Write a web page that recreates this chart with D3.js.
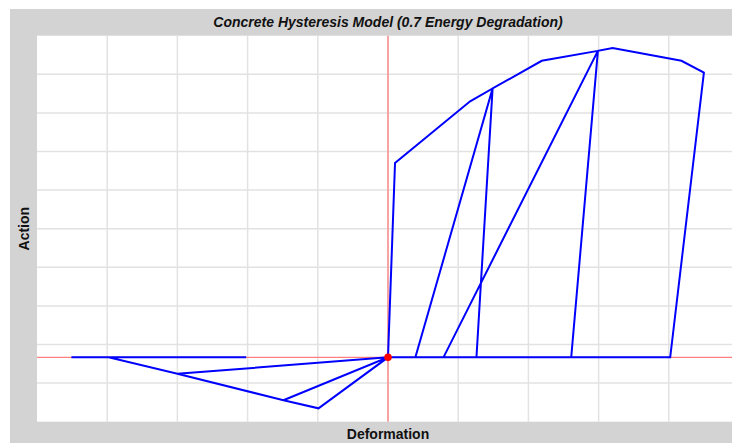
<!DOCTYPE html>
<html>
<head>
<meta charset="utf-8">
<script src="https://cdn.jsdelivr.net/npm/d3@7"></script>
<style>
  html, body { margin: 0; padding: 0; background: #ffffff; overflow: hidden; }
  svg { display: block; }
</style>
</head>
<body>
<svg id="chart" width="732" height="443"></svg>
<script>
// ---- data ----
const titleText = "Concrete Hysteresis Model (0.7 Energy Degradation)";
const xLabel = "Deformation";
const yLabel = "Action";
const xDomain = [-5, 5];
const yDomain = [-50, 250];
const gridDivisions = 10;

// hysteresis path, in drawing order
const deformation = [
  0, 0.10, 1.17, 1.49, 1.26, 0,
  -0.99, -1.49, 0,
  0.39, 1.49, 2.19, 2.99, 2.61, 0,
  -1.49, -3.0, 0,
  0.79, 2.99, 3.20, 4.18, 4.50, 4.02, 0,
  -3.0, -3.98, -4.51, -2.02
];
const action = [
  0, 151, 199, 209, 0, 0,
  -39.6, -33.3, 0,
  0, 209, 230.5, 238.2, 0, 0,
  -33.3, -12.8, 0,
  0, 238.2, 240.4, 230.5, 221.3, 0, 0,
  -12.8, 0, 0, 0
];
const currentPoint = [0, 0];

// ---- layout ----
const svg = d3.select("#chart");
const panel = { x: 10, y: 9, w: 756, h: 440 };
const plot = { x0: 37, x1: 739, y0: 35.7, y1: 421.7 };

const x = d3.scaleLinear().domain(xDomain).range([plot.x0, plot.x1]);
const y = d3.scaleLinear().domain(yDomain).range([plot.y1, plot.y0]);

svg.append("rect").attr("x", panel.x).attr("y", panel.y)
  .attr("width", panel.w).attr("height", panel.h).attr("fill", "#d3d3d3");
svg.append("rect").attr("x", plot.x0).attr("y", plot.y0)
  .attr("width", plot.x1 - plot.x0).attr("height", plot.y1 - plot.y0).attr("fill", "#ffffff");

// grid
const xGrid = d3.range(1, gridDivisions).map(i => xDomain[0] + i * (xDomain[1] - xDomain[0]) / gridDivisions);
const yGrid = d3.range(1, gridDivisions).map(i => yDomain[0] + i * (yDomain[1] - yDomain[0]) / gridDivisions);
const g = svg.append("g");
g.selectAll("line.vx").data(xGrid).enter().append("line")
  .attr("x1", d => x(d)).attr("x2", d => x(d))
  .attr("y1", plot.y0).attr("y2", plot.y1)
  .attr("stroke", "#e2e2e2").attr("stroke-width", 1.5);
g.selectAll("line.hy").data(yGrid).enter().append("line")
  .attr("x1", plot.x0).attr("x2", plot.x1)
  .attr("y1", d => y(d)).attr("y2", d => y(d))
  .attr("stroke", "#e2e2e2").attr("stroke-width", 1.5);

// zero axes
svg.append("line").attr("x1", x(0)).attr("x2", x(0))
  .attr("y1", plot.y0).attr("y2", plot.y1)
  .attr("stroke", "#ff7f7f").attr("stroke-width", 1.3);
svg.append("line").attr("x1", plot.x0).attr("x2", plot.x1)
  .attr("y1", y(0)).attr("y2", y(0))
  .attr("stroke", "#ff7f7f").attr("stroke-width", 1.3);

// hysteresis curve
const pts = deformation.map((d, i) => [d, action[i]]);
const line = d3.line().x(d => x(d[0])).y(d => y(d[1]));
svg.append("path").datum(pts).attr("d", line)
  .attr("fill", "none").attr("stroke", "#0000ff")
  .attr("stroke-width", 2).attr("stroke-linejoin", "miter");

// current point
svg.append("circle").attr("cx", x(currentPoint[0])).attr("cy", y(currentPoint[1]))
  .attr("r", 3.8).attr("fill", "#ff0000");

// texts
const cx = (plot.x0 + plot.x1) / 2;
svg.append("text").attr("x", cx).attr("y", 27)
  .attr("text-anchor", "middle")
  .attr("font-family", "Liberation Sans, Arial, sans-serif")
  .attr("font-size", 14).attr("font-weight", "bold").attr("font-style", "italic")
  .attr("fill", "#111111").text(titleText);
svg.append("text").attr("x", cx).attr("y", 438.5)
  .attr("text-anchor", "middle")
  .attr("font-family", "Liberation Sans, Arial, sans-serif")
  .attr("font-size", 14).attr("font-weight", "bold")
  .attr("fill", "#111111").text(xLabel);
const cy = (plot.y0 + plot.y1) / 2;
svg.append("text")
  .attr("transform", `translate(28.5,${cy}) rotate(-90)`)
  .attr("text-anchor", "middle")
  .attr("font-family", "Liberation Sans, Arial, sans-serif")
  .attr("font-size", 14).attr("font-weight", "bold")
  .attr("fill", "#111111").text(yLabel);
</script>
</body>
</html>
